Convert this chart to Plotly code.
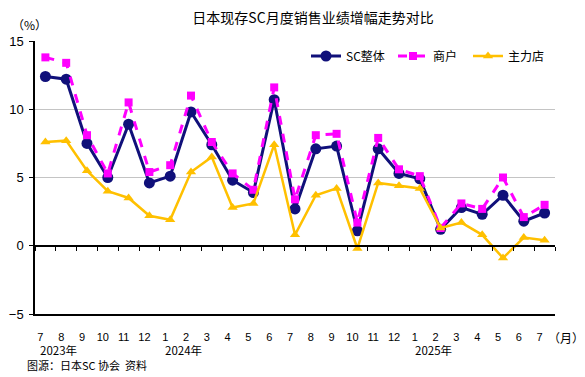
import plotly.graph_objects as go

months = ["7", "8", "9", "10", "11", "12", "1", "2", "3", "4", "5", "6",
          "7", "8", "9", "10", "11", "12", "1", "2", "3", "4", "5", "6", "7"]
sc_total = [12.4, 12.2, 7.5, 5.0, 8.9, 4.6, 5.1, 9.8, 7.4, 4.8, 3.9, 10.7,
            2.7, 7.1, 7.3, 1.1, 7.1, 5.3, 4.9, 1.2, 2.8, 2.3, 3.7, 1.8, 2.4]
tenants = [13.8, 13.4, 8.1, 5.3, 10.5, 5.4, 5.9, 11.0, 7.6, 5.3, 4.1, 11.6,
           3.4, 8.1, 8.2, 1.7, 7.9, 5.6, 5.1, 1.3, 3.1, 2.7, 5.0, 2.1, 3.0]
anchor = [7.6, 7.7, 5.5, 4.0, 3.5, 2.2, 1.9, 5.4, 6.5, 2.8, 3.1, 7.4,
          0.8, 3.7, 4.2, -0.2, 4.6, 4.4, 4.2, 1.3, 1.7, 0.8, -0.9, 0.6, 0.4]
year_labels = [("2023年", 0), ("2024年", 6), ("2025年", 18)]
y_ticks = [-5, 0, 5, 10, 15]

x = list(range(len(months)))
font = "Noto Sans CJK SC, Microsoft YaHei, sans-serif"

# page has an 8px body margin; figure is sized to fill the window from there
W, H = 577, 369
L, R, T, B = 27, 30, 33, 63
plot_w = W - L - R
plot_h = H - T - B

fig = go.Figure()
fig.add_trace(go.Scatter(
    x=x, y=sc_total, name="SC整体", mode="lines+markers", legend="legend",
    line=dict(color="#10107A", width=3),
    marker=dict(symbol="circle", size=11, color="#10107A"),
    cliponaxis=False))
fig.add_trace(go.Scatter(
    x=x, y=tenants, name="商户", mode="lines+markers", legend="legend2",
    line=dict(color="#FF00FF", width=3, dash="dash"),
    marker=dict(symbol="square", size=8, color="#FF00FF"),
    cliponaxis=False))
fig.add_trace(go.Scatter(
    x=x, y=anchor, name="主力店", mode="lines+markers", legend="legend3",
    line=dict(color="#FFC000", width=2.5),
    marker=dict(symbol="triangle-up", size=9, color="#FFC000"),
    cliponaxis=False))
# invisible trace to carry the zero-line axis
fig.add_trace(go.Scatter(x=[0], y=[0], xaxis="x2", mode="markers",
                         marker=dict(opacity=0), showlegend=False,
                         hoverinfo="skip"))

boundaries = [i + 0.5 for i in range(-1, len(months))]


def legend_at(page_x):
    return dict(orientation="h", x=(page_x - 7 - 35) / plot_w, xanchor="left",
                y=(314 - 56) / plot_h, yanchor="middle",
                bgcolor="rgba(0,0,0,0)",
                font=dict(size=12, family=font), itemwidth=30)


fig.update_layout(
    width=W, height=H,
    margin=dict(l=L, r=R, t=T, b=B, autoexpand=False),
    paper_bgcolor="white", plot_bgcolor="white",
    font=dict(family=font, size=12, color="#000"),
    title=dict(text="日本现存SC月度销售业绩增幅走势对比", x=305 / W, xanchor="center",
               y=1 - 5 / H, yanchor="top", pad=dict(t=0),
               font=dict(size=14, color="#000", family=font)),
    showlegend=True,
    legend=legend_at(313),
    legend2=legend_at(400),
    legend3=legend_at(475),
    xaxis=dict(range=[-0.5, len(months) - 0.5], tickmode="array",
               tickvals=x, ticktext=months, showgrid=False,
               showline=True, linecolor="#000", linewidth=1.5,
               ticks="", zeroline=False, ticklabelshift=-5,
               ticklabelstandoff=12, automargin=False,
               tickfont=dict(size=11, family="Liberation Sans, Arial", color="#000")),
    xaxis2=dict(range=[-0.5, len(months) - 0.5], overlaying="x",
                anchor="free", position=0.25, showline=True,
                linecolor="#000", linewidth=1.5, ticks="outside",
                ticklen=4, tickwidth=1, tickcolor="#000",
                tickmode="array", tickvals=boundaries, automargin=False,
                showticklabels=False, showgrid=False, zeroline=False),
    yaxis=dict(range=[-5, 15], tickmode="array", tickvals=y_ticks,
               ticktext=[("−5" if v < 0 else str(v)) for v in y_ticks],
               showgrid=True, gridcolor="#C4C4C4", gridwidth=1,
               zeroline=False, showline=True, linecolor="#000",
               linewidth=1.5, ticks="outside", ticklen=4,
               tickcolor="#000", ticklabelstandoff=3, automargin=False,
               tickfont=dict(size=13, family="Liberation Sans, Arial", color="#000")),
)

annotations = []
for label, idx in year_labels:
    annotations.append(dict(text=label, x=idx + 0.5, y=-5, xref="x", yref="y",
                            xshift=3, yshift=-36, yanchor="middle",
                            showarrow=False,
                            font=dict(size=11.5, family=font)))
annotations.append(dict(text="（月）", x=len(months) - 0.5, y=-5, xref="x",
                        yref="y", xanchor="left", yanchor="middle",
                        xshift=-9, yshift=-23,
                        showarrow=False, font=dict(size=12, family=font)))
annotations.append(dict(text="（%）", x=-6 / plot_w, y=(314 - 25) / plot_h,
                        xref="paper", yref="paper", xanchor="center",
                        yanchor="middle", showarrow=False,
                        font=dict(size=12, family=font)))
annotations.append(dict(text="图源：日本SC 协会  资料", x=(25 - 35) / plot_w,
                        y=(314 - 365) / plot_h, xref="paper", yref="paper",
                        xanchor="left", yanchor="middle", showarrow=False,
                        font=dict(size=11, family=font)))
fig.update_layout(annotations=annotations)

fig.write_html("out.html")
